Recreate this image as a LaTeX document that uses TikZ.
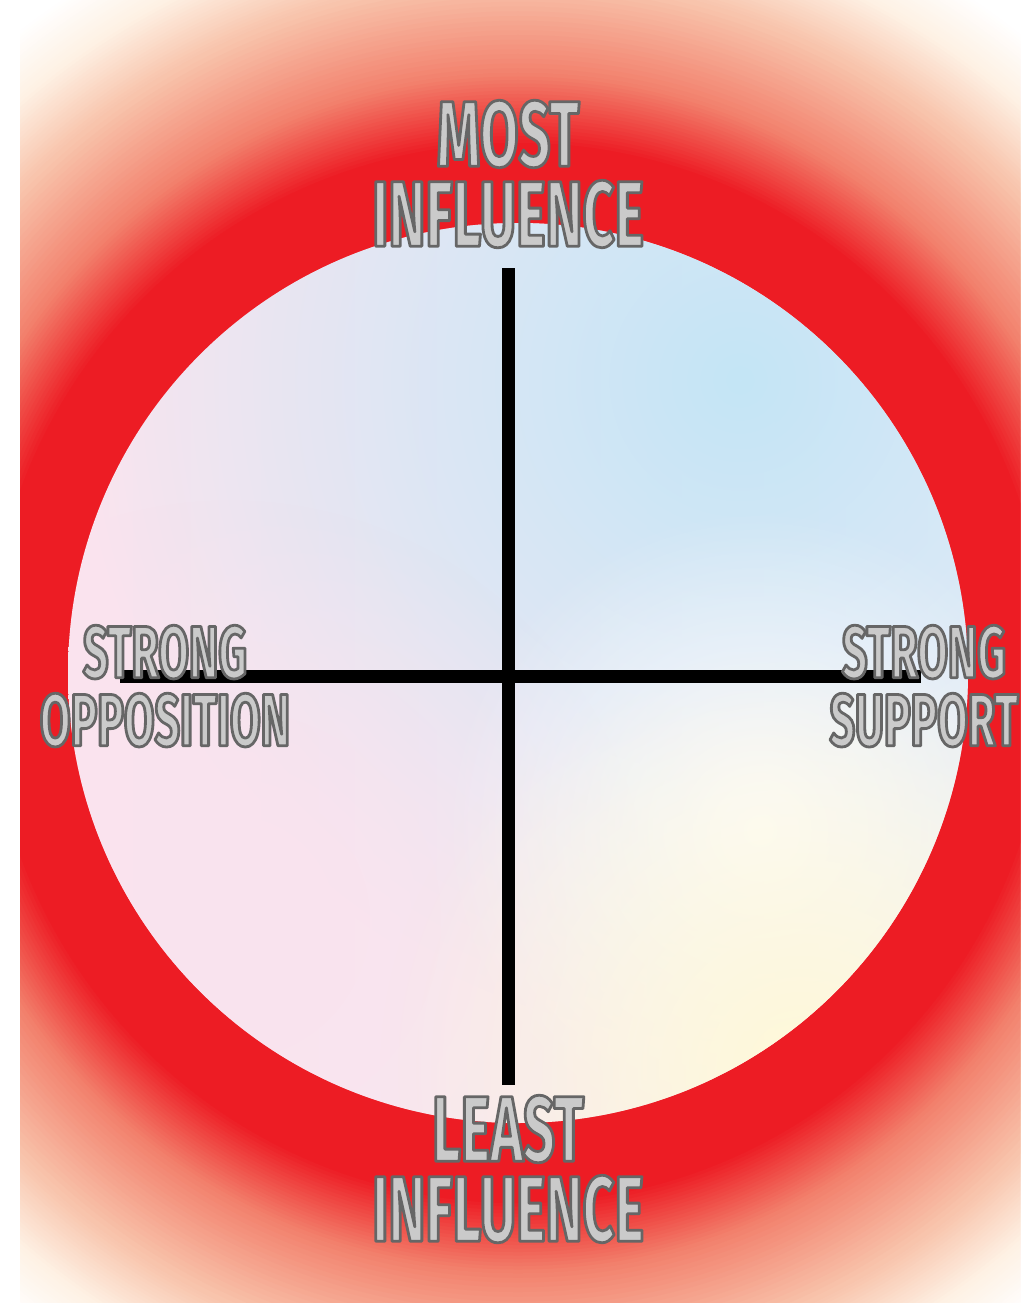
\documentclass[tikz,border=0pt]{standalone}
\usepackage{fontspec}
\usetikzlibrary{positioning,fadings}
\newfontfamily\labelfont[FakeStretch=0.6]{Fira Sans}
\definecolor{glowred}{HTML}{ED1C24}
\definecolor{glowsalmon}{HTML}{F2806C}
\definecolor{glowpeach}{HTML}{F8C4AC}
\definecolor{glowcream}{HTML}{FEF1E4}
\definecolor{discpink}{HTML}{FAE3EE}
\definecolor{disclilac}{HTML}{F3EEF7}
\definecolor{discblue}{HTML}{C4E5F6}
\definecolor{discwhite}{HTML}{FDFCFD}
\definecolor{discyellow}{HTML}{FFF9D8}
\definecolor{labelgray}{HTML}{CACACA}
% dark rim round the label letters (stroke of the glyphs)
\newcommand{\outlined}[1]{\special{pdf:literal direct 1 j 2.8 w 0.40 G 2 Tr}#1\special{pdf:literal direct 0 Tr}}
\tikzfading[name=softspot, inner color=transparent!0, outer color=transparent!100]

\begin{document}
\begin{tikzpicture}[
  x=1pt, y=-1pt,
  axis/.style={line width=13pt, black},
  axislabel/.style={text=labelgray, inner sep=0pt, align=center,
    font=\labelfont\bfseries\fontsize{93}{80}\selectfont},
  sidelabel/.style={axislabel, font=\labelfont\bfseries\fontsize{74}{68}\selectfont}
]
  \useasboundingbox (0,0) rectangle (1032,1303);
  \fill[white] (0,0) rectangle (1032,1303);

  % red glow behind the disc, ring by ring
  \begin{scope}
    \clip (20,0) rectangle (1020,1303);
    \foreach \ra/\rb/\ca/\cb in {760/815/glowcream/white, 695/760/glowpeach/glowcream,
        600/695/glowsalmon/glowpeach, 530/600/glowred/glowsalmon} {
      \foreach \k in {20,19,...,0} {
        \pgfmathsetmacro\rr{\ra+(\rb-\ra)*\k/20}
        \pgfmathtruncatemacro\pc{\k*5}
        \fill[\cb!\pc!\ca] (518,673) circle[radius=\rr];
      }
    }
    \fill[glowred] (518,673) circle[radius=530];
  \end{scope}

  % the disc
  \begin{scope}
    \clip (518,673) circle[radius=450];
    \shade[left color=discpink, right color=disclilac] (68,223) rectangle (968,1123);
    \fill[discblue, path fading=softspot] (740,380) circle[radius=660];
    \fill[discpink, path fading=softspot] (230,920) circle[radius=420];
    \fill[discwhite, path fading=softspot] (760,830) circle[radius=320];
    \fill[discyellow, path fading=softspot] (800,1070) circle[radius=420];
  \end{scope}

  \coordinate (north end) at (508,268);
  \coordinate (south end) at (508,1085);
  \coordinate (west end)  at (120,676);
  \coordinate (east end)  at (921,676);

  \draw[axis] (north end) -- (south end);
  \draw[axis] (west end) -- (east end);

  \node[axislabel, above=20pt of north end] (most) {\outlined{MOST\\INFLUENCE}};
  \node[axislabel, below=10pt of south end] (least) {\outlined{LEAST\\INFLUENCE}};
  \node[sidelabel, anchor=north] (opposition) at (165,625) {\outlined{STRONG\\OPPOSITION}};
  \node[sidelabel, anchor=north] (support) at (924,625) {\outlined{STRONG\\SUPPORT}};
\end{tikzpicture}
\end{document}
